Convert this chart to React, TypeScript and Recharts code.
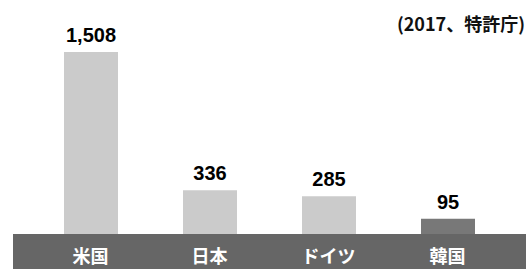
import React from "react";
import { BarChart, Bar, XAxis, YAxis, Cell, LabelList } from "recharts";

const countries = ["米国", "日本", "ドイツ", "韓国"];
const counts = [1508, 336, 285, 95];
const barColors = ["#cbcbcb", "#cbcbcb", "#cbcbcb", "#787878"];
const sourceNote = "(2017、特許庁)";
// the value axis starts slightly below zero, hidden under the dark label band
const axisFloor = -34;
const axisTop = 1508;

const data = countries.map((c, i) => ({
  country: c,
  value: counts[i],
  range: [axisFloor, counts[i]],
}));

export default function App() {
  return (
    <div style={{ position: "absolute", left: 0, top: 0, width: 526, height: 269, background: "#fff" }}>
      <div
        style={{
          position: "absolute",
          left: 13,
          top: 234,
          width: 513,
          height: 35,
          background: "#666666",
        }}
      />
      <div
        style={{
          position: "absolute",
          right: 1,
          top: 12,
          fontFamily: "'Noto Sans CJK JP', sans-serif",
          fontWeight: 700,
          fontSize: 18,
          color: "#111",
          whiteSpace: "nowrap",
          lineHeight: "22px",
        }}
      >
        {sourceNote}
      </div>
      <div style={{ position: "absolute", left: 0, top: 0 }}>
        <BarChart
          width={526}
          height={269}
          data={data}
          margin={{ top: 52, right: 19, bottom: 0, left: 31 }}
        >
          <XAxis
            dataKey="country"
            axisLine={false}
            tickLine={false}
            height={35}
            tickMargin={10}
            interval={0}
            tick={{
              fill: "#ffffff",
              fontSize: 18,
              fontWeight: 700,
              fontFamily: "'Noto Sans CJK JP', sans-serif",
            }}
          />
          <YAxis hide type="number" domain={[axisFloor, axisTop]} allowDataOverflow />
          <Bar dataKey="range" barSize={54} isAnimationActive={false}>
            {data.map((d, i) => (
              <Cell key={d.country} fill={barColors[i]} />
            ))}
            <LabelList
              dataKey="value"
              position="top"
              offset={10}
              formatter={(v: any) =>
                Number(Array.isArray(v) ? v[1] : v).toLocaleString("en-US")
              }
              style={{
                fill: "#000",
                fontSize: 20,
                fontWeight: 700,
                fontFamily: "'Liberation Sans', Arial, sans-serif",
              }}
            />
          </Bar>
        </BarChart>
      </div>
    </div>
  );
}
